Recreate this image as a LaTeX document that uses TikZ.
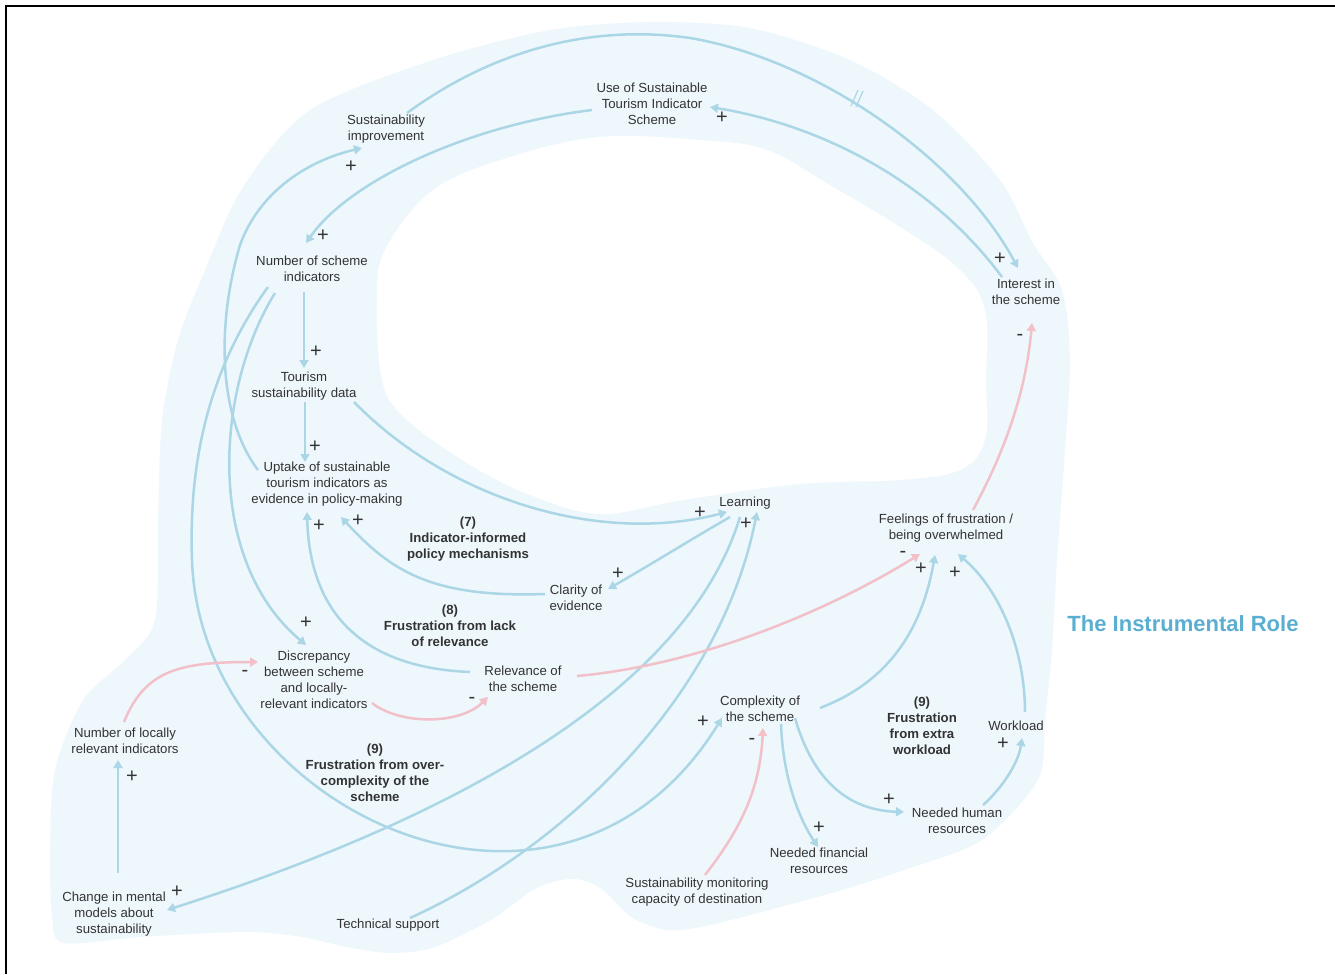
\documentclass[tikz,border=0pt]{standalone}
\usepackage{fontspec}
\setmainfont{Liberation Sans}
\usetikzlibrary{arrows.meta}
\definecolor{blobc}{HTML}{EEF7FC}
\definecolor{bluec}{HTML}{ABD6E6}
\definecolor{pinkc}{HTML}{F2C0C8}
\definecolor{txtc}{HTML}{333333}
\definecolor{titlec}{HTML}{5AAED1}
\begin{document}
\begin{tikzpicture}[x=1pt,y=-1pt,
  lbl/.style={font=\fontsize{13.2}{16}\selectfont, text=txtc, align=center, inner sep=0pt},
  bl/.style={font=\fontsize{13.2}{16}\selectfont\bfseries, text=txtc, align=center, inner sep=0pt},
  sg/.style={font=\fontsize{20}{20}\selectfont, text=txtc, inner sep=0pt},
  ttl/.style={font=\fontsize{22}{26}\selectfont\bfseries, text=titlec, inner sep=0pt},
  poslink/.style={draw=bluec, line width=2.5pt, -{Triangle[length=8pt,width=9pt]}},
  neglink/.style={draw=pinkc, line width=2.5pt, -{Triangle[length=8pt,width=9pt]}}]
\useasboundingbox (0,0) rectangle (1335,974);
% background blob
\fill[blobc] plot[smooth cycle, tension=0.5] coordinates {
 (433,60) (550,30) (650,22) (750,28) (850,60) (933,110) (1000,180) (1033,243)
 (1062,290) (1070,360) (1065,450) (1057,560) (1052,650) (1045,720) (1038,780)
 (982,840) (910,868) (842,890) (758,913) (701,927) (666,930) (631,917) (603,890)
 (582,880) (561,880) (533,890) (491,920) (435,947) (393,953) (351,948) (302,937)
 (246,932) (140,937) (63,943) (52,915) (50,850) (55,770) (83,700) (125,660)
 (155,620) (158,520) (162,420) (178,340) (205,270) (243,187) (310,110)};
\fill[white] plot[smooth cycle, tension=0.6] coordinates {
 (377,300) (385,250) (433,190) (510,157) (600,137) (700,140) (767,150) (833,187)
 (900,227) (958,268) (985,310) (986,380) (985,440) (960,470) (900,480) (800,484)
 (683,500) (600,514) (530,495) (467,463) (405,418) (382,380)};
% frame
\draw[line width=1.6pt] (6,974) -- (6,6) -- (1335,6);
% nodes
\node[lbl] (si) at (386,129) {Sustainability\\improvement};
\node[lbl] (ustis) at (652,104) {Use of Sustainable\\Tourism Indicator\\Scheme};
\node[lbl] (nsi) at (312,269) {Number of scheme\\indicators};
\node[lbl] (tsd) at (304,386) {Tourism\\sustainability data};
\node[lbl] (up) at (327,484) {Uptake of sustainable\\tourism indicators as\\evidence in policy-making};
\node[lbl] (lrn) at (745,503) {Learning};
\node[lbl] (ce) at (576,598) {Clarity of\\evidence};
\node[lbl] (disc) at (314,680) {Discrepancy\\between scheme\\and locally-\\relevant indicators};
\node[lbl] (rel) at (523,679) {Relevance of\\the scheme};
\node[lbl] (nlri) at (125,741) {Number of locally\\relevant indicators};
\node[lbl] (cmm) at (114,914) {Change in mental\\models about\\sustainability};
\node[lbl] (ts) at (388,925) {Technical support};
\node[lbl] (comp) at (760,709) {Complexity of\\the scheme};
\node[lbl] (smc) at (697,892) {Sustainability monitoring\\capacity of destination};
\node[lbl] (nfr) at (819,861) {Needed financial\\resources};
\node[lbl] (nhr) at (957,821) {Needed human\\resources};
\node[lbl] (wl) at (1016,726) {Workload};
\node[lbl] (feel) at (946,528) {Feelings of frustration /\\being overwhelmed};
\node[lbl] (int) at (1026,292) {Interest in\\the scheme};
\node[bl] (l7) at (468,539) {(7)\\Indicator-informed\\policy mechanisms};
\node[bl] (l8) at (450,626) {(8)\\Frustration from lack\\of relevance};
\node[bl] (l9a) at (375,773) {(9)\\Frustration from over-\\complexity of the\\scheme};
\node[bl] (l9b) at (922,726) {(9)\\Frustration\\from extra\\workload};
\node[ttl] (title) at (1183,624) {The Instrumental Role};
% connectors
\draw[poslink] ([shift={(21,-16)}]si.center) .. controls (500,45) and (600,25) .. (690,38)
  .. controls (820,60) and (960,160) .. ([shift={(-8,-24)}]int.center);
\draw[bluec, line width=1.2pt] (851,106) -- (858,90) (856,107) -- (863,91);
\draw[poslink] ([shift={(-60,6)}]ustis.center) .. controls (470,125) and (350,180) .. ([shift={(-6,-26)}]nsi.center);
\draw[poslink] ([shift={(-24,-15)}]int.center) .. controls (930,180) and (820,125) .. ([shift={(58,3)}]ustis.center);
\draw[poslink] ([shift={(-8,23)}]nsi.center) -- ([shift={(0,-18)}]tsd.center);
\draw[poslink] ([shift={(1,16)}]tsd.center) -- ([shift={(-22,-22)}]up.center);
\draw[poslink] ([shift={(50,16)}]tsd.center) .. controls (450,500) and (600,545) .. ([shift={(-18,9)}]lrn.center);
\draw[poslink] ([shift={(-15,14)}]lrn.center) .. controls (690,540) and (650,565) .. ([shift={(32,-9)}]ce.center);
\draw[poslink] ([shift={(-31,-4)}]ce.center) .. controls (430,598) and (390,570) .. ([shift={(14,33)}]up.center);
\draw[poslink] ([shift={(-53,-7)}]rel.center) .. controls (370,668) and (310,620) .. ([shift={(-20,28)}]up.center);
\draw[poslink] ([shift={(-37,24)}]nsi.center) .. controls (215,390) and (205,560) .. ([shift={(-8,-35)}]disc.center);
\draw[poslink] ([shift={(-44,18)}]nsi.center) .. controls (215,360) and (188,450) .. (192,560)
  .. controls (200,810) and (560,980) .. ([shift={(-38,9)}]comp.center);
\draw[poslink] ([shift={(-69,-14)}]up.center) .. controls (220,420) and (215,330) .. (240,245)
  .. controls (260,190) and (310,160) .. ([shift={(-24,19)}]si.center);
\draw[neglink] ([shift={(58,23)}]disc.center) .. controls (400,725) and (460,725) .. ([shift={(-35,18)}]rel.center);
\draw[neglink] ([shift={(-1,-19)}]nlri.center) .. controls (145,670) and (180,662) .. ([shift={(-56,-18)}]disc.center);
\draw[poslink] ([shift={(4,-41)}]cmm.center) -- ([shift={(-7,19)}]nlri.center);
\draw[poslink] ([shift={(-5,14)}]lrn.center) .. controls (690,680) and (480,810) .. ([shift={(53,-4)}]cmm.center);
\draw[poslink] ([shift={(22,-7)}]ts.center) .. controls (560,850) and (720,700) .. ([shift={(12,9)}]lrn.center);
\draw[neglink] ([shift={(54,-3)}]rel.center) .. controls (700,665) and (830,610) .. ([shift={(-26,26)}]feel.center);
\draw[poslink] ([shift={(60,-1)}]comp.center) .. controls (880,685) and (920,640) .. ([shift={(-11,27)}]feel.center);
\draw[poslink] ([shift={(9,-14)}]wl.center) .. controls (1025,650) and (1000,590) .. ([shift={(12,26)}]feel.center);
\draw[neglink] ([shift={(27,-18)}]feel.center) .. controls (1000,460) and (1025,400) .. ([shift={(6,31)}]int.center);
\draw[neglink] ([shift={(8,-17)}]smc.center) .. controls (740,830) and (760,790) .. ([shift={(3,19)}]comp.center);
\draw[poslink] ([shift={(21,15)}]comp.center) .. controls (783,780) and (800,820) .. ([shift={(-1,-14)}]nfr.center);
\draw[poslink] ([shift={(35,9)}]comp.center) .. controls (810,770) and (840,810) .. ([shift={(-53,-9)}]nhr.center);
\draw[poslink] ([shift={(26,-16)}]nhr.center) .. controls (1000,790) and (1018,765) .. ([shift={(6,12)}]wl.center);
% polarity signs
\node[sg] (p1) at (351,167) {+};
\node[sg] (p2) at (323,236) {+};
\node[sg] (p3) at (722,118) {+};
\node[sg] (p4) at (1000,259) {+};
\node[sg] (p5) at (1020,337) {-};
\node[sg] (p6) at (316,352) {+};
\node[sg] (p7) at (315,447) {+};
\node[sg] (p8) at (319,526) {+};
\node[sg] (p9) at (358,521) {+};
\node[sg] (p10) at (700,513) {+};
\node[sg] (p11) at (746,524) {+};
\node[sg] (p12) at (618,574) {+};
\node[sg] (p13) at (306,623) {+};
\node[sg] (p14) at (245,673) {-};
\node[sg] (p15) at (472,700) {-};
\node[sg] (p16) at (132,777) {+};
\node[sg] (p17) at (177,892) {+};
\node[sg] (p18) at (903,554) {-};
\node[sg] (p19) at (921,569) {+};
\node[sg] (p20) at (955,573) {+};
\node[sg] (p21) at (703,722) {+};
\node[sg] (p22) at (752,741) {-};
\node[sg] (p23) at (819,828) {+};
\node[sg] (p24) at (889,800) {+};
\node[sg] (p25) at (1003,744) {+};
\end{tikzpicture}
\end{document}
